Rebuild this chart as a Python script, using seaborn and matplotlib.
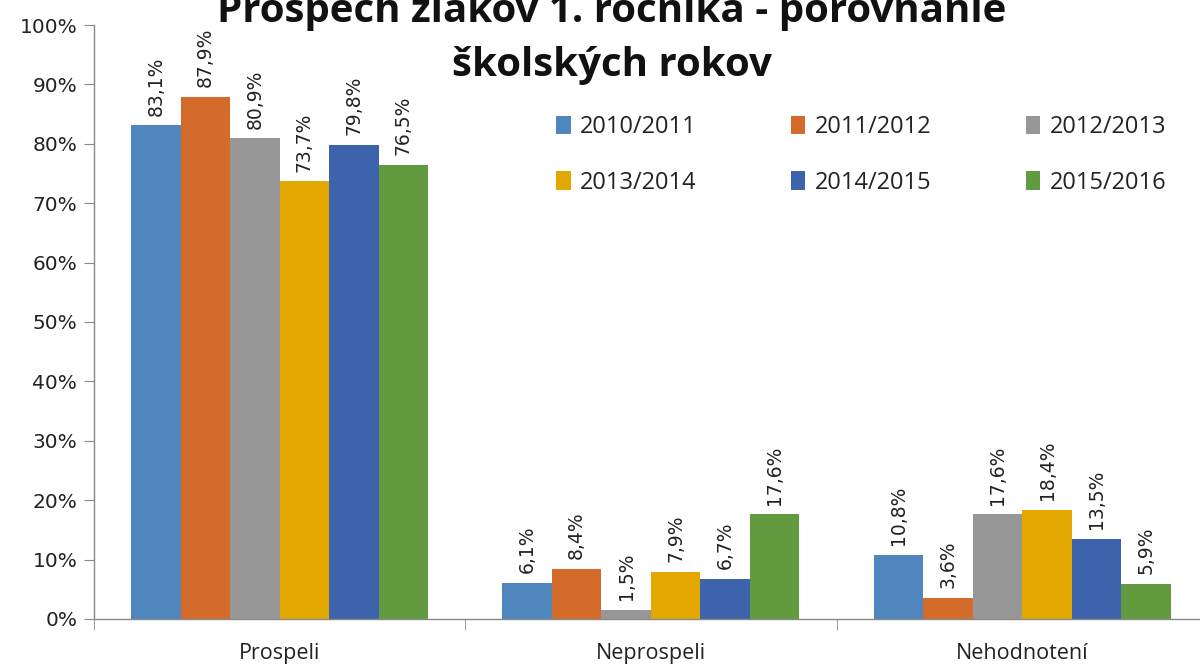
import pandas as pd
import matplotlib.pyplot as plt
import seaborn as sns
from matplotlib.ticker import FuncFormatter, FixedLocator

# hodnoty z grafu (percentá)
kategorie = ["Prospeli", "Neprospeli", "Nehodnotení"]
roky = ["2010/2011", "2011/2012", "2012/2013", "2013/2014", "2014/2015", "2015/2016"]
hodnoty = {
    "2010/2011": [83.1, 6.1, 10.8],
    "2011/2012": [87.9, 8.4, 3.6],
    "2012/2013": [80.9, 1.5, 17.6],
    "2013/2014": [73.7, 7.9, 18.4],
    "2014/2015": [79.8, 6.7, 13.5],
    "2015/2016": [76.5, 17.6, 5.9],
}
farby = ["#4F86BD", "#D46B2B", "#979797", "#E2A800", "#3C63AC", "#629A3F"]

rows = []
for r in roky:
    for k, v in zip(kategorie, hodnoty[r]):
        rows.append({"kategoria": k, "rok": r, "hodnota": v})
df = pd.DataFrame(rows)

sns.set_style("white")
plt.rcParams["font.family"] = ["DejaVu Sans"]
narrow = ["Open Sans", "DejaVu Sans"]

fig = plt.figure(figsize=(12, 6.67), dpi=100)
ax = fig.add_axes([0.0783, 0.072, 0.9283, 0.8905])

sns.barplot(data=df, x="kategoria", y="hodnota", hue="rok", order=kategorie,
            hue_order=roky, palette=farby, width=0.8, saturation=1, linewidth=0, ax=ax)

# popisky nad stĺpcami
for cont in ax.containers:
    labels = [f"{b.get_height():.1f}%".replace(".", ",") for b in cont]
    ax.bar_label(cont, labels=labels, rotation=90, padding=7, fontsize=13.5, color="#222222")

ax.set_ylim(0, 100)
ax.set_xlim(-0.5, 2.5)
ax.yaxis.set_major_locator(FixedLocator(range(0, 101, 10)))
ax.yaxis.set_major_formatter(FuncFormatter(lambda v, p: f"{int(v)}%"))
ax.tick_params(axis="y", labelsize=14.5, colors="#222222", length=7, color="#888888", left=True, pad=5)
ax.tick_params(axis="x", which="major", length=0, pad=17)
ax.set_xticks([-0.5, 0.5, 1.5, 2.5], minor=True)
ax.tick_params(axis="x", which="minor", length=8, color="#888888", bottom=True)
for lab in ax.get_xticklabels():
    lab.set_family(narrow)
    lab.set_fontsize(15.5)
    lab.set_color("#222222")
ax.set_xlabel("")
ax.set_ylabel("")

for s in ["top", "right"]:
    ax.spines[s].set_visible(False)
for s in ["left", "bottom"]:
    ax.spines[s].set_color("#888888")
    ax.spines[s].set_linewidth(1)

# legenda po riadkoch (matplotlib plní po stĺpcoch)
h, l = ax.get_legend_handles_labels()
poradie = [0, 3, 1, 4, 2, 5]
leg = ax.legend([h[i] for i in poradie], [l[i] for i in poradie],
                loc="upper left", bbox_to_anchor=(0.446, 0.859), bbox_transform=fig.transFigure,
                ncol=3, frameon=False, prop={"family": narrow, "size": 17},
                handlelength=0.6, handleheight=0.8, handletextpad=0.4,
                columnspacing=4.0, labelspacing=1.33)
for t in leg.get_texts():
    t.set_color("#222222")

fig.text(0.51, 0.942, "Prospech žiakov 1. ročníka - porovnanie\nškolských rokov",
         ha="center", va="center", multialignment="center", fontsize=29,
         fontweight="bold", family=narrow, linespacing=1.5, color="#111111")

fig.savefig("out.png", dpi=100)
